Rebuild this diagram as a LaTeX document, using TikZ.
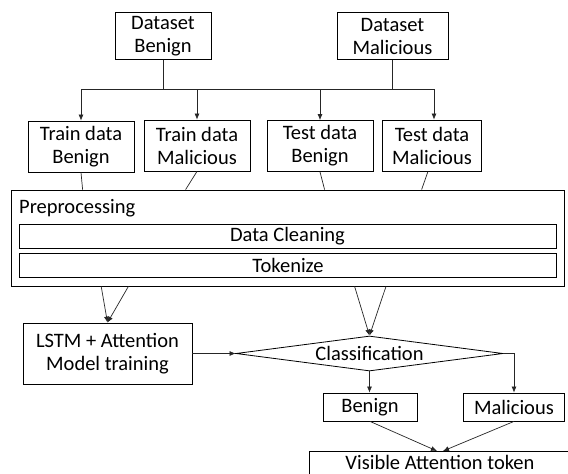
\documentclass[tikz,border=0pt]{standalone}
\usepackage{fontspec}
\setmainfont{Carlito}
\usetikzlibrary{shapes.geometric,arrows.meta,calc}
\begin{document}
\begin{tikzpicture}[x=1pt,y=-1pt,
  box/.style={draw=black,line width=0.8pt,inner sep=0pt,align=center,font=\fontsize{20.5}{23}\selectfont},
  ln/.style={draw=black!85,line width=0.7pt},
  arr/.style={ln,-{Latex[length=6pt,width=5pt]}},
]
\useasboundingbox (0,0) rectangle (568,474);
\clip (0,0) rectangle (568,474);
\fill[white] (0,0) rectangle (568,474);
% top
\node[box,minimum width=96pt,minimum height=47pt] (dsb) at (163,36) {Dataset\\Benign};
\node[box,minimum width=111pt,minimum height=47pt] (dsm) at (392.5,36) {Dataset\\Malicious};
% second row
\node[box,minimum width=106pt,minimum height=51pt] (trb) at (81,146.5) {Train data\\Benign};
\node[box,minimum width=106pt,minimum height=51pt] (trm) at (197,145.5) {Train data\\Malicious};
\node[box,minimum width=106pt,minimum height=51pt] (teb) at (320,146) {Test data\\Benign};
\node[box,minimum width=99pt,minimum height=51pt] (tem) at (432,145.5) {Test data\\Malicious};
% preprocessing
\node[box,minimum width=553pt,minimum height=96pt] (pre) at (287.5,238) {};
\node[font=\fontsize{20.5}{23}\selectfont,anchor=base west,inner sep=0pt] (pret) at (19,213) {Preprocessing};
\node[box,minimum width=537pt,minimum height=24pt] (clean) at (287.5,236) {Data Cleaning};
\node[box,minimum width=537pt,minimum height=24pt] (tok) at (288,265) {Tokenize};
% lower
\node[box,minimum width=169pt,minimum height=61pt] (lstm) at (107.5,353.5) {LSTM + Attention\\Model training};
\node[box,shape=diamond,aspect=7.6,minimum width=267pt,minimum height=35pt] (cls) at (369.5,353.5) {Classification};
\node[box,minimum width=94pt,minimum height=28pt] (ben) at (370,407) {Benign};
\node[box,minimum width=101pt,minimum height=28pt] (mal) at (514,407) {Malicious};
\node[box,anchor=north,minimum width=262pt,inner ysep=4pt,text height=14pt,text depth=10pt] (vis) at (440,451) {Visible Attention token};
% connectors top
\coordinate (hb) at (163,89);
\coordinate (hm) at (392.5,89);
\draw[arr] (dsb.south) -- (hb) -| (trb.north);
\draw[arr] (hb) -| (teb.north);
\draw[arr] (dsm.south) -- (hm) -| (trm.north);
\draw[arr] (hm) -| ($(tem.north)+(2,0)$);
% into preprocessing
\draw[ln] (trb.south) -- ($(pre.north west)+(72,0)$);
\draw[ln] (trm.south) -- ($(pre.north west)+(175,0)$);
\draw[ln] (teb.south) -- ($(pre.north west)+(314,0)$);
\draw[ln] ($(tem.south)+(-4,0)$) -- ($(pre.north west)+(411,0)$);
% out of preprocessing
\draw[arr] ($(pre.south west)+(90.6,0)$) -- (lstm.north);
\draw[arr] ($(pre.south west)+(117.8,0)$) -- (lstm.north);
\draw[arr] ($(pre.south west)+(344,0)$) -- (cls.north);
\draw[arr] ($(pre.south west)+(375.4,0)$) -- (cls.north);
% classification
\draw[arr] (lstm.east) -- (cls.west);
\draw[arr] (cls.south) -- (cls.south |- ben.north);
\draw[arr] (cls.east) -| (mal.north);
\draw[arr] (ben.south) -- ($(vis.north)+(-3,0)$);
\draw[arr] (mal.south) -- ($(vis.north)+(3,0)$);
\end{tikzpicture}
\end{document}
